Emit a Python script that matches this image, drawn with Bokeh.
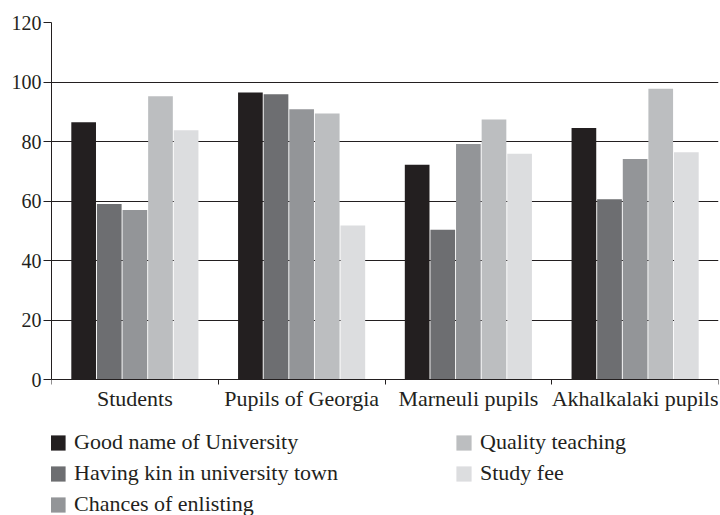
from bokeh.plotting import figure
from bokeh.models import (ColumnDataSource, FixedTicker, Legend, LegendItem, Range1d,
                          LabelSet)
from bokeh.core.properties import value
from bokeh.transform import dodge
from bokeh.embed import file_html
from bokeh.resources import INLINE

# ---- data ----
categories = ["Students", "Pupils of Georgia", "Marneuli pupils", "Akhalkalaki pupils"]
series_names = ["Good name of University", "Having kin in university town",
                "Chances of enlisting", "Quality teaching", "Study fee"]
good_name = [86.5, 96.5, 72.2, 84.5]
having_kin = [59.0, 95.9, 50.3, 60.6]
chances_enlisting = [57.0, 90.8, 79.2, 74.1]
quality_teaching = [95.2, 89.4, 87.4, 97.7]
study_fee = [83.8, 51.8, 75.9, 76.4]
y_ticks = [0, 20, 40, 60, 80, 100, 120]

series_values = [good_name, having_kin, chances_enlisting, quality_teaching, study_fee]
colors = ["#231f20", "#6d6e71", "#939598", "#bcbec0", "#dcdddf"]
TEXT = "#231f20"
FONT = "Liberation Serif"

# ---- layout constants (pixels) ----
W, H = 720, 515
FRAME_TOP = 22          # y = 120
ZERO_Y = 379            # y = 0
BORDER_BOTTOM = 0
frame_bottom = H - BORDER_BOTTOM
px_per_unit = (ZERO_Y - FRAME_TOP) / 120.0
y_low = -(frame_bottom - ZERO_Y) / px_per_unit

centers = [i + 0.5 for i in range(len(categories))]
data = {"x": centers, "cat": categories}
keys = []
for j, vals in enumerate(series_values):
    k = "s%d" % j
    keys.append(k)
    data[k] = vals
source = ColumnDataSource(data)

p = figure(width=W, height=H, x_range=Range1d(0, len(categories)),
           y_range=Range1d(y_low, 120), output_backend="svg", toolbar_location=None,
           min_border_left=51, min_border_right=2, min_border_top=FRAME_TOP,
           min_border_bottom=BORDER_BOTTOM)
p.outline_line_color = None
p.background_fill_color = "white"

stride = 0.1536
bar_w = 0.148
renderers = []
for j, k in enumerate(keys):
    r = p.vbar(x=dodge("x", (j - 2) * stride, range=p.x_range), top=k, width=bar_w,
               bottom=0, source=source, fill_color=colors[j], line_color=None)
    renderers.append(r)

# grid
p.xgrid.grid_line_color = None
p.ygrid.ticker = FixedTicker(ticks=y_ticks)
p.ygrid.grid_line_color = TEXT
p.ygrid.grid_line_width = 1.2
p.ygrid.grid_line_alpha = 1.0

# y axis
ya = p.yaxis[0]
ya.ticker = FixedTicker(ticks=y_ticks)
ya.bounds = (0, 120)
ya.major_tick_out = 8
ya.major_tick_in = 0
ya.minor_tick_out = 0
ya.major_label_standoff = 2
ya.axis_line_color = TEXT
ya.major_tick_line_color = TEXT
ya.major_label_text_font = FONT
ya.major_label_text_font_size = "20px"
ya.major_label_text_color = TEXT

# x axis: line at y = 0 with small ticks at the category boundaries
xa = p.xaxis[0]
xa.fixed_location = 0
xa.ticker = FixedTicker(ticks=[], minor_ticks=list(range(len(categories) + 1)))
xa.major_tick_out = 0
xa.major_tick_in = 0
xa.minor_tick_out = 5
xa.minor_tick_in = 0
xa.major_label_standoff = 0
xa.minor_tick_line_color = TEXT
xa.axis_line_color = TEXT

# category labels under the axis
labels = LabelSet(x="x", y=0, text="cat", source=source, y_offset=-26,
                  text_align="center", text_baseline="alphabetic",
                  text_font=value(FONT), text_font_size=value("22px"),
                  text_color=TEXT)
p.add_layout(labels)

# legends (two columns)
def make_legend(idx, loc):
    items = [LegendItem(label=series_names[i], renderers=[renderers[i]]) for i in idx]
    lg = Legend(items=items, location=loc, orientation="vertical")
    lg.border_line_color = None
    lg.background_fill_alpha = 0
    lg.padding = 0
    lg.margin = 0
    lg.glyph_width = 19
    lg.glyph_height = 19
    lg.label_standoff = 7
    lg.spacing = 5
    lg.label_text_font = FONT
    lg.label_text_font_size = "22px"
    lg.label_text_color = TEXT
    return lg

ITEM_H = 26
ROW1 = 442
top = ROW1 - ITEM_H / 2
hA = 3 * ITEM_H + 2 * 5
hB = 2 * ITEM_H + 5
legA = make_legend([0, 1, 2], (-3, frame_bottom - (top + hA)))
legB = make_legend([3, 4], (403, frame_bottom - (top + hB)))
p.add_layout(legA, "center")
p.add_layout(legB, "center")

open("out.html", "w").write(file_html(p, INLINE))
